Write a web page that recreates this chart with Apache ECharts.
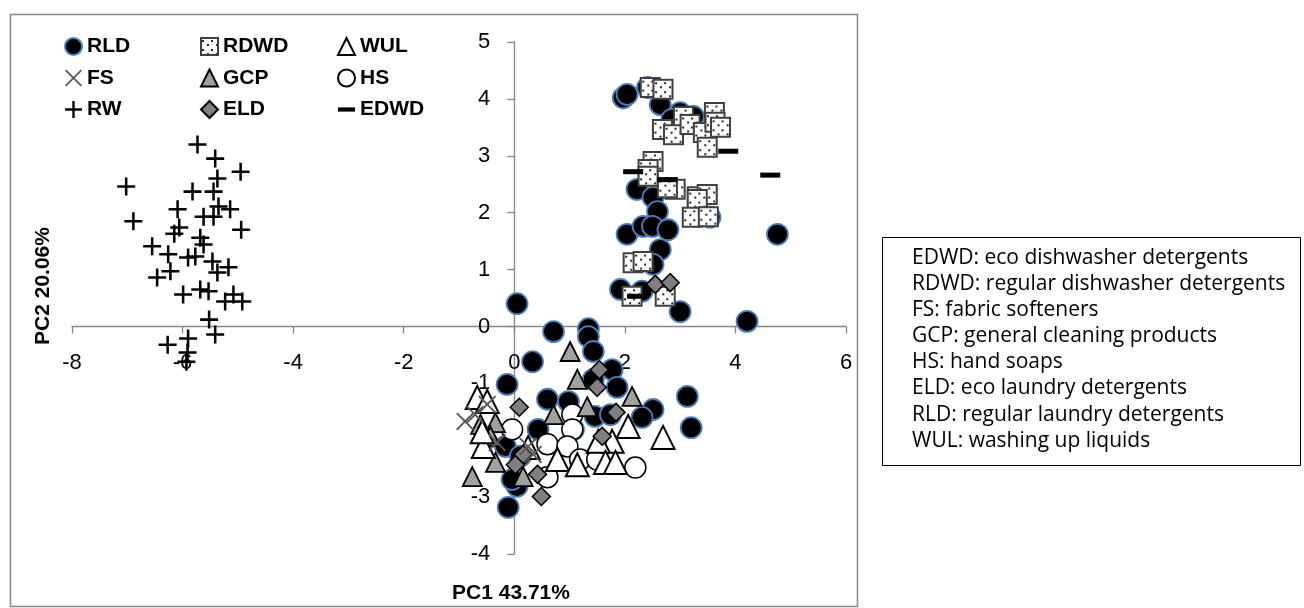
<!DOCTYPE html>
<html><head><meta charset="utf-8">
<script src="https://cdn.jsdelivr.net/npm/echarts@6/dist/echarts.min.js"></script>
<style>html,body{margin:0;padding:0;background:#fff}#c{width:1304px;height:608px}</style>
</head><body><div id="c"></div>
<script>
// ---- data (PC1, PC2) ----
const RLD = [[1.97,4.02],[2.04,4.08],[2.41,4.20],[2.64,3.90],[3.00,3.76],[3.24,3.69],[2.85,3.64],
 [2.22,2.41],[2.51,2.27],[2.59,2.02],[2.04,1.62],[2.33,1.76],[2.50,1.76],[2.78,1.70],[2.64,1.35],
 [2.51,1.09],[1.92,0.65],[2.31,0.62],[3.00,0.26],[4.21,0.09],[4.76,1.62],[3.54,1.92],
 [0.05,0.40],[0.71,-0.09],[1.34,-0.04],[1.34,-0.18],[1.43,-0.44],[0.33,-0.62],[1.77,-0.76],
 [1.43,-0.93],[1.86,-1.07],[-0.13,-1.02],[3.13,-1.23],[0.60,-1.28],[0.98,-1.32],[2.51,-1.46],
 [2.31,-1.60],[3.20,-1.78],[1.46,-1.58],[1.74,-1.55],[0.43,-1.81],[1.07,-1.81],[-0.16,-2.11],
 [0.11,-2.28],[0.05,-2.81],[-0.04,-2.69],[-0.11,-3.18]];
const RDWD = [[2.46,4.20],[2.69,4.17],[3.06,3.69],[3.62,3.76],[2.68,3.46],[2.88,3.37],[3.18,3.55],
 [3.42,3.41],[3.63,3.59],[3.73,3.50],[3.49,3.15],[2.51,2.90],[2.42,2.76],[2.42,2.64],[2.91,2.41],
 [2.77,2.44],[3.31,2.28],[3.49,2.32],[3.31,2.23],[3.22,1.92],[3.51,1.93],[2.15,1.12],[2.33,1.14],
 [2.13,0.53],[2.73,0.53]];
const WUL = [[-0.67,-1.25],[-0.49,-1.32],[2.06,-1.76],[2.69,-1.95],[1.77,-2.02],[1.52,-2.02],
 [0.78,-2.34],[1.14,-2.43],[1.65,-2.39],[1.83,-2.39],[-0.56,-2.11],[-0.58,-1.85],[0.25,-2.13]];
const FS = [[-0.89,-1.67],[-0.71,-1.55],[-0.49,-1.37],[-0.31,-2.04],[0.25,-2.11],[0.34,-2.25]];
const GCP = [[1.01,-0.44],[1.14,-0.93],[2.13,-1.23],[1.32,-1.41],[0.71,-1.55],[-0.34,-1.69],
 [-0.61,-1.72],[-0.43,-1.93],[-0.34,-2.39],[-0.76,-2.64],[0.16,-2.64]];
const HS = [[-0.04,-1.81],[1.05,-1.55],[1.05,-1.81],[0.60,-2.07],[0.96,-2.11],[1.19,-2.34],
 [1.50,-2.34],[2.19,-2.48],[0.60,-2.65]];
const RW = [[-5.73,3.20],[-5.41,2.95],[-4.95,2.72],[-5.37,2.60],[-7.02,2.46],[-5.82,2.37],[-5.44,2.37],
 [-5.35,2.11],[-5.14,2.06],[-6.09,2.06],[-5.62,1.93],[-5.44,1.93],[-6.89,1.85],[-6.06,1.74],[-4.94,1.70],
 [-6.15,1.63],[-5.68,1.56],[-5.62,1.44],[-6.55,1.41],[-6.26,1.27],[-5.90,1.21],[-5.77,1.23],[-5.46,1.14],
 [-5.17,1.04],[-5.37,0.95],[-6.22,0.97],[-6.46,0.86],[-5.99,0.56],[-5.68,0.65],[-5.53,0.62],[-5.08,0.56],
 [-5.23,0.44],[-4.92,0.44],[-5.52,0.12],[-5.41,-0.14],[-5.90,-0.21],[-6.27,-0.32],[-5.91,-0.46],[-5.93,-0.62]];
const ELD = [[1.54,-0.76],[1.50,-1.07],[0.09,-1.42],[1.84,-1.51],[1.59,-1.93],[0.16,-2.25],[0.02,-2.43],
 [0.42,-2.60],[0.49,-2.99],[2.55,0.74],[2.82,0.77]];
const EDWD = [[3.87,3.08],[2.15,2.72],[2.77,2.58],[4.63,2.66],[2.22,0.53]];

const legendColumns = [['RLD','FS','RW'],['RDWD','GCP','ELD'],['WUL','HS','EDWD']];
const descriptions = ['EDWD: eco dishwasher detergents','RDWD: regular dishwasher detergents',
 'FS: fabric softeners','GCP: general cleaning products','HS: hand soaps',
 'ELD: eco laundry detergents','RLD: regular laundry detergents','WUL: washing up liquids'];
const xTitle = 'PC1 43.71%';
const yTitle = 'PC2 20.06%';
const xRange = [-8, 6, 2];
const yRange = [-4, 5, 1];

// ---- patterns ----
function makeCanvas(bg, dot, size, pts, d) {
  const c = document.createElement('canvas');
  c.width = size; c.height = size;
  const g = c.getContext('2d');
  g.fillStyle = bg; g.fillRect(0, 0, size, size);
  g.fillStyle = dot;
  pts.forEach(p => g.fillRect(p[0], p[1], d, d));
  return c;
}
const diceCanvas = makeCanvas('#ffffff', '#2a2a2a', 9, [[1,2],[6,6]], 2);
const grayCanvas = makeCanvas('#9a9a9a', '#d4d4d4', 4, [[0,0],[2,2]], 1);
// scatter symbols are unit paths scaled by size/2, so scale the pattern back down
function pat(canvas, symSize) {
  const s = symSize ? 2 / symSize : 1;
  return { image: canvas, repeat: 'repeat', scaleX: s, scaleY: s };
}
const RDWD_SIZE = 19, GCP_SIZE = 19;

const PLUS = 'path://M8.6,0H11.4V8.6H20V11.4H11.4V20H8.6V11.4H0V8.6H8.6Z';
const CROSS = 'path://M1.5,0L10,8.5L18.5,0L20,1.5L11.5,10L20,18.5L18.5,20L10,11.5L1.5,20L0,18.5L8.5,10L0,1.5Z';
const DASH = 'path://M0,0H20V5H0Z';

const FONT = 'Liberation Sans';
function sc(name, data, opt) {
  return Object.assign({ type: 'scatter', name: name, data: data }, opt);
}
const series = [
  sc('RLD', RLD, { symbol: 'circle', symbolSize: 21, itemStyle: { color: '#000', borderColor: '#4a7ebb', borderWidth: 1.8, opacity: 1 } }),
  sc('RDWD', RDWD, { symbol: 'rect', symbolSize: RDWD_SIZE, itemStyle: { color: pat(diceCanvas, RDWD_SIZE), borderColor: '#404040', borderWidth: 2, opacity: 1 } }),
  sc('HS', HS, { symbol: 'circle', symbolSize: 21, itemStyle: { color: '#fff', borderColor: '#000', borderWidth: 1.5, opacity: 1 } }),
  sc('GCP', GCP, { symbol: 'triangle', symbolSize: GCP_SIZE, itemStyle: { color: pat(grayCanvas, GCP_SIZE), borderColor: '#000', borderWidth: 1.8, opacity: 1 } }),
  sc('WUL', WUL, { symbol: 'triangle', symbolSize: 23, itemStyle: { color: '#fff', borderColor: '#000', borderWidth: 2, opacity: 1 } }),
  sc('ELD', ELD, { symbol: 'diamond', symbolSize: 18, itemStyle: { color: '#7f7f7f', borderColor: '#000', borderWidth: 1.5, opacity: 1 } }),
  sc('FS', FS, { symbol: CROSS, symbolSize: 18, itemStyle: { color: '#595959', opacity: 1 } }),
  sc('RW', RW, { symbol: PLUS, symbolSize: 18, itemStyle: { color: '#000', opacity: 1 } }),
  sc('EDWD', EDWD, { symbol: 'rect', symbolSize: [20, 5], itemStyle: { color: '#000', opacity: 1 } })
];
series.forEach(s => { s.emphasis = { disabled: true }; s.animation = false; });

function legendItem(n) {
  if (n === 'EDWD') return { name: n, icon: DASH };
  if (n === 'RDWD') return { name: n, itemStyle: { color: pat(diceCanvas, 0) } };
  if (n === 'GCP') return { name: n, itemStyle: { color: pat(grayCanvas, 0) } };
  return n;
}
const legendLefts = [64, 200, 337];
const legends = legendColumns.map((col, i) => ({
  orient: 'vertical', left: legendLefts[i], top: 36, itemGap: 10.5, padding: 0,
  itemWidth: 17, itemHeight: 17, selectedMode: false,
  textStyle: { fontFamily: FONT, fontWeight: 'bold', fontSize: 21, color: '#000', lineHeight: 21 },
  data: col.map(legendItem)
}));

// grid geometry
const G = { left: 72, right: 458, top: 42, bottom: 54, W: 1304, H: 608 };
const gw = G.W - G.left - G.right, gh = G.H - G.top - G.bottom;
const xZeroOffset = -gw * (0 - xRange[0]) / (xRange[1] - xRange[0]);
const yZeroOffset = -gh * (0 - yRange[0]) / (yRange[1] - yRange[0]);

const axisCommon = {
  type: 'value', splitLine: { show: false },
  axisLine: { onZero: false, lineStyle: { color: '#868686', width: 1.3 } },
  axisTick: { show: true, inside: false, length: 7, lineStyle: { color: '#868686', width: 1.3 } },
  axisLabel: { fontFamily: FONT, fontSize: 22, color: '#000' }
};

const graphics = [
  { type: 'rect', left: 8, top: 12, shape: { width: 847, height: 592 }, style: { fill: 'none', stroke: '#868686', lineWidth: 1.5 }, z: -1, silent: true },
  { type: 'rect', left: 882, top: 237, shape: { width: 418, height: 228 }, style: { fill: '#fff', stroke: '#000', lineWidth: 1 }, silent: true },
  { type: 'text', x: 511, y: 593, style: { text: xTitle, fontFamily: FONT, fontWeight: 'bold', fontSize: 21, fill: '#000', align: 'center', verticalAlign: 'middle' } },
  { type: 'text', x: 43, y: 286, rotation: Math.PI / 2, style: { text: yTitle, fontFamily: FONT, fontWeight: 'bold', fontSize: 21, fill: '#000', align: 'center', verticalAlign: 'middle' } }
];
descriptions.forEach((t, i) => graphics.push({
  type: 'text', x: 912, y: 258 + i * 26.1,
  style: { text: t, fontFamily: 'Open Sans', fontSize: 21, fill: '#000', align: 'left', verticalAlign: 'middle' }
}));

const chart = echarts.init(document.getElementById('c'), null, { renderer: 'canvas' });
chart.setOption({
  animation: false,
  backgroundColor: '#fff',
  grid: { left: G.left, right: G.right, top: G.top, bottom: G.bottom, containLabel: false },
  xAxis: Object.assign({}, axisCommon, { position: 'bottom', offset: yZeroOffset,
    min: xRange[0], max: xRange[1], interval: xRange[2],
    axisLabel: Object.assign({}, axisCommon.axisLabel, { margin: 25 }) }),
  yAxis: Object.assign({}, axisCommon, { position: 'left', offset: xZeroOffset,
    min: yRange[0], max: yRange[1], interval: yRange[2],
    axisLabel: Object.assign({}, axisCommon.axisLabel, { margin: 24 }) }),
  legend: legends,
  graphic: graphics,
  series: series
});
</script></body></html>
